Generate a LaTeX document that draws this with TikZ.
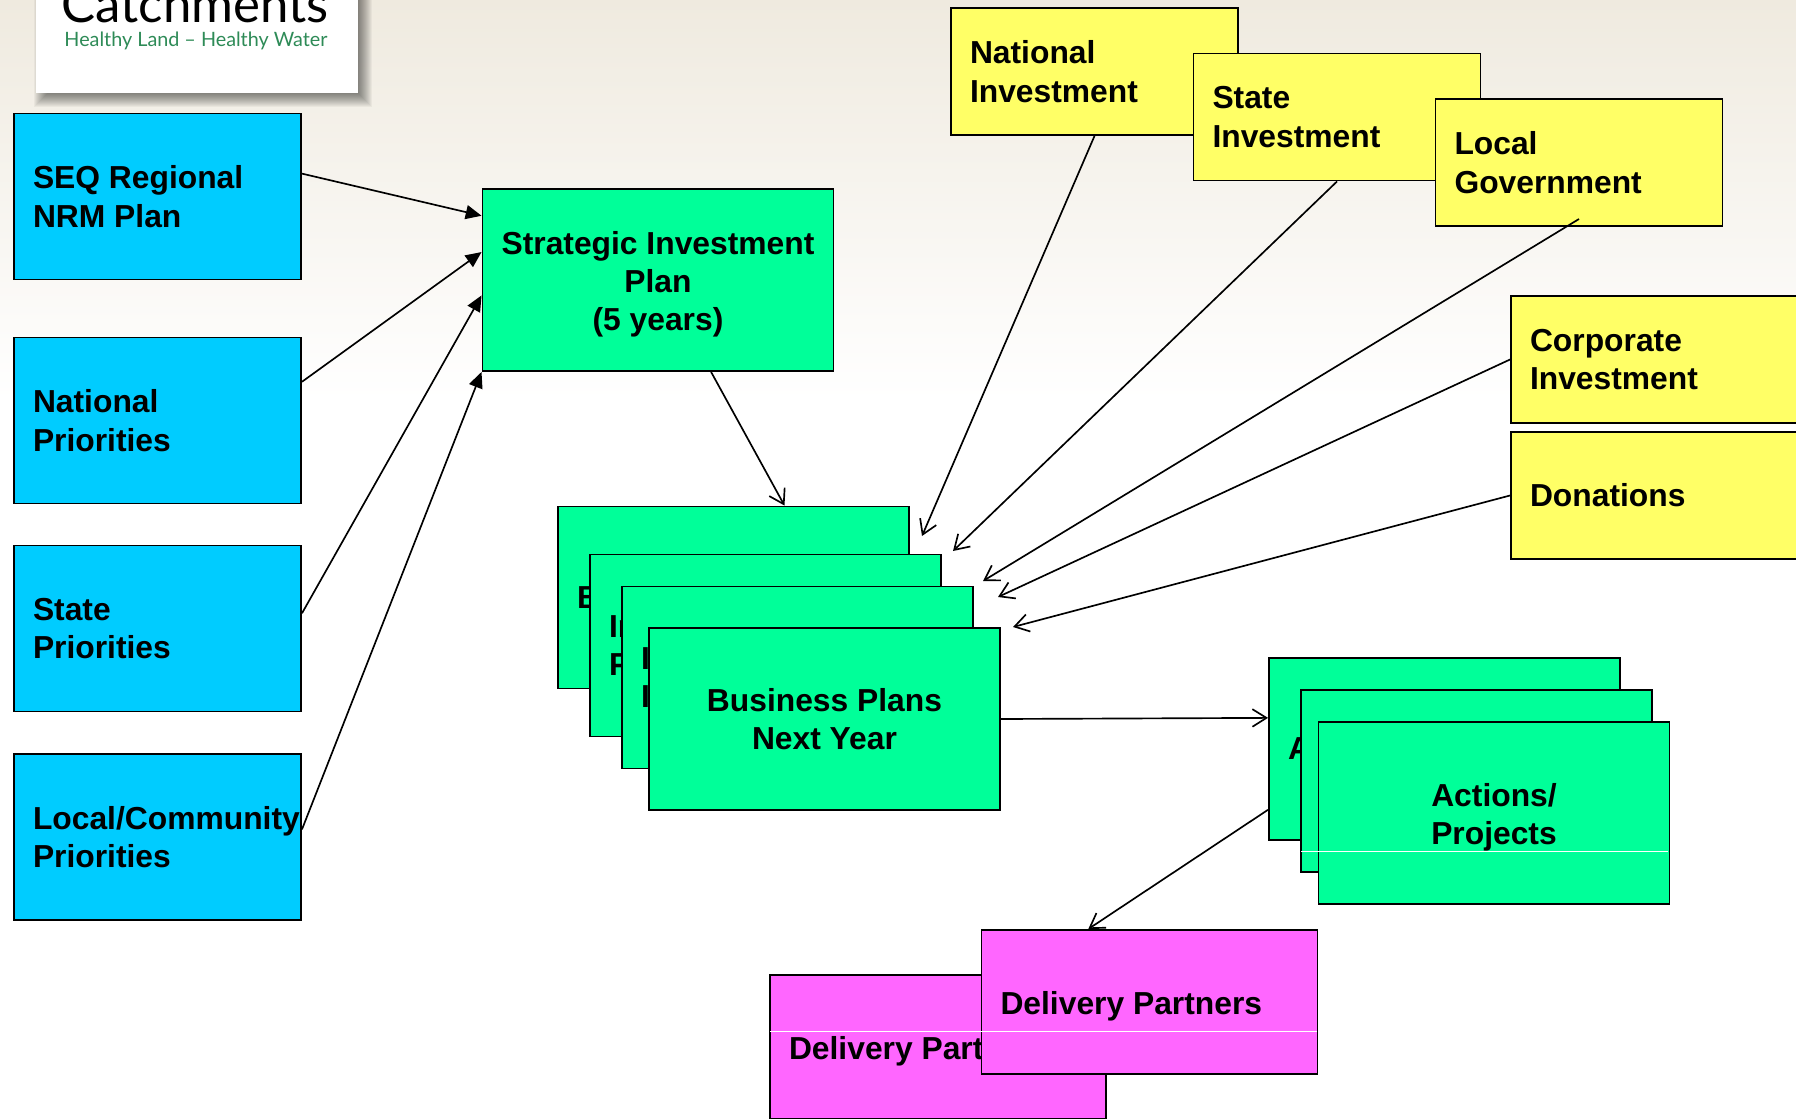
\documentclass[tikz,border=0pt]{standalone}
\usepackage{fontspec}
\setmainfont{Liberation Sans}
\newfontfamily\logofont{Lato}
\usetikzlibrary{arrows.meta}
\definecolor{boxblue}{HTML}{00CCFF}
\definecolor{boxgreen}{HTML}{00FF99}
\definecolor{boxyellow}{HTML}{FFFF66}
\definecolor{boxpink}{HTML}{FF66FF}
\definecolor{logogreen}{HTML}{2E8B57}
\definecolor{pagetop}{HTML}{EFEADF}
\newcommand{\dropline}{\rule{0pt}{18pt}}
\tikzset{
  box/.style={draw=black, line width=1.1pt, font=\fontsize{18.1}{21.8}\selectfont\bfseries, inner xsep=19*.02cm, inner ysep=0pt, minimum height=#1},
  srcbox/.style={box=166*.02cm, fill=boxblue, text width=249*.02cm, align=flush left},
  fundbox/.style={box=127*.02cm, fill=boxyellow, text width=249*.02cm, align=flush left},
  planbox/.style={box=182*.02cm, fill=boxgreen, inner xsep=0pt, minimum width=351*.02cm, align=center},
  backbox/.style={box=182*.02cm, fill=boxgreen, text width=313*.02cm, align=flush left},
  partbox/.style={box=144*.02cm, fill=boxpink, text width=298*.02cm, align=flush left},
  feed/.style={line width=.95pt, -{Triangle[length=9pt,width=8pt]}},
  flow/.style={line width=.95pt, -{Straight Barb[length=8pt,width=10pt]}},
  seam/.style={white, line width=.45pt},
}
\begin{document}
\begin{tikzpicture}[x=.02cm, y=-.02cm]
\useasboundingbox (0,0) rectangle (1796,1119);
% page background
\shade[top color=pagetop, bottom color=white] (0,0) rectangle (1796,400);
% logo
\foreach \s in {8,7,...,-8}
  \fill[black, opacity=.04] (36-\s+6,0) rectangle (358+6+\s,93+6+\s);
\node[fill=white, minimum width=322*.02cm, minimum height=110*.02cm, inner sep=0pt] (logo) at (197,38) {};
\node[font=\logofont\fontsize{29}{32}\selectfont, anchor=base] (catch) at (195,22) {Catchments};
\node[font=\logofont\fontsize{11.25}{13}\selectfont, text=logogreen, anchor=base] (motto) at (196,47) {Healthy Land – Healthy Water};
% sources
\node[srcbox] (seq) at (157.5,196.5) {SEQ Regional\\NRM Plan};
\node[srcbox] (nat) at (157.5,420.5) {National\\Priorities};
\node[srcbox] (sta) at (157.5,628.5) {State\\Priorities};
\node[srcbox] (loc) at (157.5,837) {Local/Community\\Priorities};
% strategic plan
\node[planbox] (sip) at (658,280) {\dropline Strategic Investment\\Plan\\(5 years)};
\draw[feed] (seq.9.5) -- (sip.160);
\draw[feed] (nat.15) -- (sip.171);
\draw[feed] (sta.6.6) -- (sip.185.2);
\draw[feed] (loc.3.6) -- (sip.south west);
% business plans
\node[backbox] (bpa) at (733.5,597.5) {B};
\node[backbox] (bpb) at (765.5,645.5) {In\\P};
\node[backbox] (bpc) at (797.5,677.5) {I\\I};
\node[planbox] (bpd) at (824.5,719) {Business Plans\\Next Year};
\draw[flow] (sip.-60.3) -- (bpa.61);
% funding
\node[fundbox] (fna) at (1094.5,71.5) {National\\Investment};
\node[fundbox] (fst) at (1337,117) {State\\Investment};
\node[fundbox] (flo) at (1579,162.5) {Local\\Government};
\node[fundbox] (fco) at (1654.5,359.5) {Corporate\\Investment};
\node[fundbox] (fdo) at (1654.5,495.5) {Donations};
\coordinate (flostart) at (1579,219);
\coordinate (tipa) at (922,536);
\coordinate (tipb) at (953,551);
\coordinate (tipc) at (983,581);
\coordinate (tipd) at (998,597);
\coordinate (tipe) at (1013,627);
\draw[flow] (fna.south) -- (tipa);
\draw[flow] (fst.south) -- (tipb);
\draw[flow] (flostart) -- (tipc);
\draw[flow] (fco.west) -- (tipd);
\draw[flow] (fdo.west) -- (tipe);
% actions
\node[backbox] (acta) at (1444.5,749) {A};
\node[planbox] (actb) at (1476.5,781) {};
\node[planbox] (actc) at (1494,813) {\dropline Actions/\\Projects};
\draw[flow] (bpd.east) -- (acta.170.3);
\draw[seam] (1301,851) -- (1668,851);
% delivery
\node[partbox] (dpa) at (938,1047) {\dropline Delivery Partners};
\node[partbox] (dpb) at (1149.5,1002) {\dropline Delivery Partners};
\draw[flow] (acta.199.5) -- (dpb.130.3);
\draw[seam] (770,1031) -- (1317,1031);
\end{tikzpicture}
\end{document}
